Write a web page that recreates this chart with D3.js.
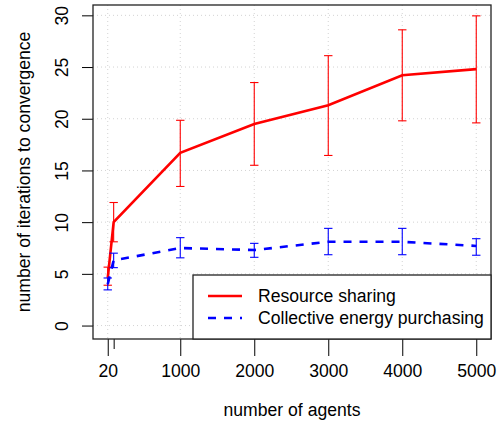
<!DOCTYPE html>
<html>
<head>
<meta charset="utf-8">
<script src="https://cdn.jsdelivr.net/npm/d3@7"></script>
<style>
  html, body { margin: 0; padding: 0; background: #fff; }
  svg { display: block; font-family: "Liberation Sans", Arial, sans-serif; }
</style>
</head>
<body>
<svg id="chart" width="499" height="423"></svg>
<script>
// Number of agents at each measured point
const agents = [20, 100, 1000, 2000, 3000, 4000, 5000];

// Resource sharing: mean iterations and error bar bounds
const sharingMean = [4.6, 10.0, 16.7, 19.5, 21.3, 24.2, 24.8];
const sharingLow  = [3.9, 8.1, 13.45, 15.5, 16.45, 19.8, 19.6];
const sharingHigh = [5.65, 11.9, 19.85, 23.5, 26.1, 28.6, 29.95];

// Collective energy purchasing: mean iterations and error bar bounds
const purchasingMean = [4.0, 6.3, 7.5, 7.3, 8.1, 8.1, 7.7];
const purchasingLow  = [3.45, 5.6, 6.55, 6.6, 6.85, 6.85, 6.8];
const purchasingHigh = [4.6, 7.0, 8.5, 7.95, 9.4, 9.4, 8.4];

// Axis ticks
const xTicks = [20, 1000, 2000, 3000, 4000, 5000];
const xMinorTicks = [100];
const yTicks = [0, 5, 10, 15, 20, 25, 30];

const seriesNames = ["Resource sharing", "Collective energy purchasing"];

const svg = d3.select("#chart");
const plot = { left: 93, right: 491, top: 5, bottom: 339 };
const FONT = 17.6;

const x = d3.scaleLinear().domain([-179.2, 5199.2]).range([plot.left, plot.right]);
const y = d3.scaleLinear().domain([-1.3, 31.0]).range([plot.bottom, plot.top]);

// Dotted grid
const grid = svg.append("g").attr("stroke", "#d3d3d3").attr("stroke-width", 1)
  .attr("stroke-dasharray", "1,3");
grid.selectAll("line.v").data(xTicks).join("line").attr("class", "v")
  .attr("x1", d => x(d)).attr("x2", d => x(d))
  .attr("y1", plot.top).attr("y2", plot.bottom);
grid.selectAll("line.h").data(yTicks).join("line").attr("class", "h")
  .attr("x1", plot.left).attr("x2", plot.right)
  .attr("y1", d => y(d)).attr("y2", d => y(d));

// Series with error bars
function drawSeries(mean, low, high, color, dash) {
  const rows = agents.map((a, i) => ({ a, m: mean[i], lo: low[i], hi: high[i] }));
  const g = svg.append("g");
  const eb = g.append("g").attr("stroke", color).attr("stroke-width", 1.1);
  eb.selectAll("line.bar").data(rows).join("line").attr("class", "bar")
    .attr("x1", d => x(d.a)).attr("x2", d => x(d.a))
    .attr("y1", d => y(d.lo)).attr("y2", d => y(d.hi));
  eb.selectAll("line.capHi").data(rows).join("line").attr("class", "capHi")
    .attr("x1", d => x(d.a) - 4.2).attr("x2", d => x(d.a) + 4.2)
    .attr("y1", d => y(d.hi)).attr("y2", d => y(d.hi));
  eb.selectAll("line.capLo").data(rows).join("line").attr("class", "capLo")
    .attr("x1", d => x(d.a) - 4.2).attr("x2", d => x(d.a) + 4.2)
    .attr("y1", d => y(d.lo)).attr("y2", d => y(d.lo));
  g.append("path").datum(rows)
    .attr("fill", "none").attr("stroke", color).attr("stroke-width", 2.6)
    .attr("stroke-dasharray", dash)
    .attr("d", d3.line().x(d => x(d.a)).y(d => y(d.m)));
}
drawSeries(sharingMean, sharingLow, sharingHigh, "#ff0000", null);
drawSeries(purchasingMean, purchasingLow, purchasingHigh, "#0000ff", "8,8");

// X axis
const xAxis = svg.append("g").attr("transform", `translate(0,${plot.bottom})`)
  .call(d3.axisBottom(x).tickValues(xTicks).tickSize(17).tickPadding(6).tickFormat(d3.format("d")));
xAxis.select(".domain").remove();
xAxis.selectAll("text").attr("font-size", FONT).attr("fill", "#000")
  .attr("font-family", "Liberation Sans, Arial, sans-serif").attr("dy", "0.85em");
xAxis.selectAll("line").attr("stroke", "#000");

const xMinor = svg.append("g").attr("transform", `translate(0,${plot.bottom})`)
  .call(d3.axisBottom(x).tickValues(xMinorTicks).tickSize(10).tickFormat(""));
xMinor.select(".domain").remove();
xMinor.selectAll("line").attr("stroke", "#000");

// Y axis with rotated labels
const yAxis = svg.append("g").attr("transform", `translate(${plot.left},0)`)
  .call(d3.axisLeft(y).tickValues(yTicks).tickSize(11));
yAxis.select(".domain").remove();
yAxis.selectAll("line").attr("stroke", "#000");
yAxis.selectAll("text")
  .attr("transform", "rotate(-90)")
  .attr("x", 0).attr("y", -25).attr("dy", 0)
  .attr("text-anchor", "middle")
  .attr("font-size", FONT).attr("fill", "#000")
  .attr("font-family", "Liberation Sans, Arial, sans-serif");

// Plot frame
svg.append("rect")
  .attr("x", plot.left).attr("y", plot.top)
  .attr("width", plot.right - plot.left).attr("height", plot.bottom - plot.top)
  .attr("fill", "none").attr("stroke", "#222").attr("stroke-width", 1.3);

// Axis titles
svg.append("text").attr("x", (plot.left + plot.right) / 2).attr("y", 416)
  .attr("text-anchor", "middle").attr("font-size", FONT)
  .text("number of agents");
svg.append("text")
  .attr("transform", `translate(30,${(plot.top + plot.bottom) / 2}) rotate(-90)`)
  .attr("text-anchor", "middle").attr("font-size", FONT)
  .text("number of iterations to convergence");

// Legend
const legend = svg.append("g");
legend.append("rect").attr("x", 193).attr("y", 275).attr("width", 298).attr("height", 64)
  .attr("fill", "#fff").attr("stroke", "#222").attr("stroke-width", 1.3);
const legendItems = [
  { name: seriesNames[0], color: "#ff0000", dash: null, yc: 296 },
  { name: seriesNames[1], color: "#0000ff", dash: "8,8", yc: 318 }
];
legendItems.forEach(it => {
  legend.append("line").attr("x1", 208).attr("x2", 242)
    .attr("y1", it.yc).attr("y2", it.yc)
    .attr("stroke", it.color).attr("stroke-width", 2.6)
    .attr("stroke-dasharray", it.dash);
  legend.append("text").attr("x", 258).attr("y", it.yc + 6)
    .attr("font-size", FONT).text(it.name);
});
</script>
</body>
</html>
